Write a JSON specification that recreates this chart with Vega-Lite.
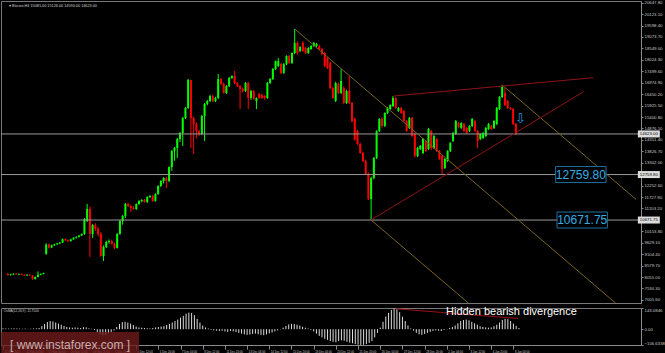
{
"$schema":"https://vega.github.io/schema/vega-lite/v6.json",
"background":"#000000",
"padding":0,
"spacing":1,
"config":{"view":{"stroke":"#787878","strokeWidth":1},"axis":{"grid":false,"title":null,"labelOverlap":false,"labelBound":false,"labelFont":"Liberation Sans","labelFontSize":4.3,"labelColor":"#c8c8c8","domainColor":"#8a8a8a","tickColor":"#8a8a8a"}},
"datasets":{
"bars":[
{"i":0,"o":8198,"h":8237,"l":8119,"c":8149,"m":6},
{"i":1,"o":8149,"h":8208,"l":8119,"c":8178,"m":5},
{"i":2,"o":8178,"h":8227,"l":8149,"c":8208,"m":4},
{"i":3,"o":8208,"h":8247,"l":8159,"c":8168,"m":5},
{"i":4,"o":8168,"h":8218,"l":8139,"c":8198,"m":6},
{"i":5,"o":8198,"h":8227,"l":8149,"c":8159,"m":5},
{"i":6,"o":8159,"h":8188,"l":8100,"c":8120,"m":4},
{"i":7,"o":8120,"h":8178,"l":8100,"c":8159,"m":3},
{"i":8,"o":8159,"h":8188,"l":8110,"c":8129,"m":4},
{"i":9,"o":8129,"h":8149,"l":7924,"c":7963,"m":2},
{"i":10,"o":7963,"h":8080,"l":7934,"c":8061,"m":3},
{"i":11,"o":8061,"h":8315,"l":8041,"c":8159,"m":5},
{"i":12,"o":8159,"h":8227,"l":8139,"c":8198,"m":6},
{"i":13,"o":8198,"h":8257,"l":8178,"c":8237,"m":8},
{"i":14,"o":9118,"h":9606,"l":9079,"c":9548,"m":20},
{"i":15,"o":9548,"h":9587,"l":9362,"c":9411,"m":35},
{"i":16,"o":9411,"h":9548,"l":9382,"c":9509,"m":48},
{"i":17,"o":9509,"h":9587,"l":9480,"c":9558,"m":55},
{"i":18,"o":9558,"h":9626,"l":9529,"c":9597,"m":52},
{"i":19,"o":9597,"h":9665,"l":9568,"c":9636,"m":45},
{"i":20,"o":9636,"h":9822,"l":9617,"c":9793,"m":38},
{"i":21,"o":9793,"h":9832,"l":9714,"c":9744,"m":30},
{"i":22,"o":9744,"h":9783,"l":9666,"c":9705,"m":22},
{"i":23,"o":9705,"h":9812,"l":9685,"c":9783,"m":15},
{"i":24,"o":9783,"h":9881,"l":9763,"c":9861,"m":12},
{"i":25,"o":9861,"h":9920,"l":9822,"c":9900,"m":10},
{"i":26,"o":9900,"h":9979,"l":9871,"c":9959,"m":12},
{"i":27,"o":9959,"h":10057,"l":9940,"c":10028,"m":10},
{"i":28,"o":10028,"h":10762,"l":9999,"c":10720,"m":8},
{"i":29,"o":10626,"h":11409,"l":10583,"c":11178,"m":14},
{"i":30,"o":11178,"h":11290,"l":8974,"c":10032,"m":12},
{"i":31,"o":10032,"h":10488,"l":9851,"c":10446,"m":6},
{"i":32,"o":10446,"h":10528,"l":10165,"c":10264,"m":3},
{"i":33,"o":10264,"h":10362,"l":9920,"c":10032,"m":-5},
{"i":34,"o":10032,"h":10116,"l":8991,"c":9021,"m":-20},
{"i":35,"o":9021,"h":9509,"l":8792,"c":9435,"m":-35},
{"i":36,"o":9435,"h":9725,"l":9382,"c":9664,"m":-40},
{"i":37,"o":9664,"h":9783,"l":9587,"c":9710,"m":-38},
{"i":38,"o":9710,"h":9773,"l":9548,"c":9572,"m":-30},
{"i":39,"o":9572,"h":9626,"l":9333,"c":9389,"m":-20},
{"i":40,"o":9389,"h":10077,"l":9362,"c":10032,"m":-8},
{"i":41,"o":10032,"h":10683,"l":9999,"c":10627,"m":15},
{"i":42,"o":10627,"h":10898,"l":10461,"c":10857,"m":35},
{"i":43,"o":10857,"h":11456,"l":10761,"c":11408,"m":48},
{"i":44,"o":11408,"h":11465,"l":11272,"c":11318,"m":50},
{"i":45,"o":11318,"h":11370,"l":11041,"c":11225,"m":45},
{"i":46,"o":11225,"h":11320,"l":11144,"c":11179,"m":38},
{"i":47,"o":11179,"h":11436,"l":11134,"c":11408,"m":28},
{"i":48,"o":11408,"h":11583,"l":11371,"c":11546,"m":18},
{"i":49,"o":11546,"h":11632,"l":11485,"c":11592,"m":12},
{"i":50,"o":11592,"h":11642,"l":11466,"c":11500,"m":10},
{"i":51,"o":11500,"h":11760,"l":11456,"c":11730,"m":8},
{"i":52,"o":11730,"h":11828,"l":11682,"c":11775,"m":6},
{"i":53,"o":11775,"h":11828,"l":11514,"c":11546,"m":5},
{"i":54,"o":11546,"h":11897,"l":11517,"c":11867,"m":8},
{"i":55,"o":11867,"h":12269,"l":11828,"c":12234,"m":12},
{"i":56,"o":12234,"h":12503,"l":12190,"c":12464,"m":15},
{"i":57,"o":12464,"h":12640,"l":12346,"c":12601,"m":18},
{"i":58,"o":12601,"h":12660,"l":12141,"c":12464,"m":20},
{"i":59,"o":12464,"h":13129,"l":12415,"c":13106,"m":28},
{"i":60,"o":13106,"h":13883,"l":12926,"c":13841,"m":35},
{"i":61,"o":13841,"h":14030,"l":13393,"c":13979,"m":45},
{"i":62,"o":13979,"h":14440,"l":13520,"c":14392,"m":55},
{"i":63,"o":14392,"h":14715,"l":14255,"c":14667,"m":65},
{"i":64,"o":14667,"h":15400,"l":14071,"c":15357,"m":78},
{"i":65,"o":15357,"h":15860,"l":15304,"c":15814,"m":90},
{"i":66,"o":15814,"h":17150,"l":15771,"c":17100,"m":105},
{"i":67,"o":17100,"h":17112,"l":13979,"c":15357,"m":112},
{"i":68,"o":15357,"h":15420,"l":13703,"c":15081,"m":110},
{"i":69,"o":15081,"h":15156,"l":14421,"c":14759,"m":95},
{"i":70,"o":14759,"h":14813,"l":14519,"c":14621,"m":70},
{"i":71,"o":14621,"h":15497,"l":14568,"c":15448,"m":45},
{"i":72,"o":15448,"h":16046,"l":14300,"c":15999,"m":25},
{"i":73,"o":15999,"h":16183,"l":15941,"c":16137,"m":12},
{"i":74,"o":16137,"h":16416,"l":16086,"c":16366,"m":5},
{"i":75,"o":16366,"h":16428,"l":16086,"c":16137,"m":-5},
{"i":76,"o":16137,"h":16330,"l":16086,"c":16274,"m":-8},
{"i":77,"o":16274,"h":17375,"l":16222,"c":17146,"m":-10},
{"i":78,"o":17146,"h":17190,"l":16867,"c":16917,"m":-12},
{"i":79,"o":16917,"h":16985,"l":16476,"c":16503,"m":-10},
{"i":80,"o":16503,"h":16867,"l":16457,"c":16818,"m":-15},
{"i":81,"o":16818,"h":17239,"l":16770,"c":17193,"m":-18},
{"i":82,"o":17193,"h":17308,"l":17141,"c":17284,"m":-12},
{"i":83,"o":17284,"h":17518,"l":16916,"c":16963,"m":-15},
{"i":84,"o":16963,"h":17011,"l":16770,"c":16818,"m":-20},
{"i":85,"o":16818,"h":16867,"l":15769,"c":16687,"m":-25},
{"i":86,"o":16687,"h":16750,"l":16524,"c":16596,"m":-30},
{"i":87,"o":16596,"h":17014,"l":16544,"c":16962,"m":-35},
{"i":88,"o":16962,"h":17014,"l":15769,"c":16273,"m":-38},
{"i":89,"o":16273,"h":16652,"l":16184,"c":16596,"m":-36},
{"i":90,"o":16596,"h":16652,"l":16184,"c":16227,"m":-32},
{"i":91,"o":16137,"h":16300,"l":15769,"c":16273,"m":-30},
{"i":92,"o":16458,"h":16497,"l":16233,"c":16273,"m":-34},
{"i":93,"o":16413,"h":16478,"l":16233,"c":16273,"m":-38},
{"i":94,"o":16366,"h":16408,"l":16184,"c":16273,"m":-40},
{"i":95,"o":16273,"h":17014,"l":16231,"c":16962,"m":-35},
{"i":96,"o":16962,"h":17190,"l":16916,"c":17146,"m":-28},
{"i":97,"o":17146,"h":17651,"l":17102,"c":17606,"m":-22},
{"i":98,"o":17606,"h":17993,"l":17552,"c":17969,"m":-15},
{"i":99,"o":17740,"h":18111,"l":17699,"c":17969,"m":-8},
{"i":100,"o":17835,"h":17896,"l":17363,"c":17421,"m":-2},
{"i":101,"o":17421,"h":17875,"l":17375,"c":17834,"m":10},
{"i":102,"o":17834,"h":18238,"l":17787,"c":18201,"m":22},
{"i":103,"o":18201,"h":18256,"l":17846,"c":17884,"m":32},
{"i":104,"o":17884,"h":18364,"l":17836,"c":18339,"m":36},
{"i":105,"o":18339,"h":19441,"l":18286,"c":18798,"m":35},
{"i":106,"o":18798,"h":18873,"l":18256,"c":18339,"m":30},
{"i":107,"o":18431,"h":18649,"l":18383,"c":18614,"m":24},
{"i":108,"o":18798,"h":18890,"l":18383,"c":18431,"m":16},
{"i":109,"o":18569,"h":18629,"l":18286,"c":18339,"m":10},
{"i":110,"o":18339,"h":18609,"l":18295,"c":18569,"m":5},
{"i":111,"o":18523,"h":18707,"l":18482,"c":18661,"m":-5},
{"i":112,"o":18661,"h":18844,"l":18609,"c":18798,"m":-15},
{"i":113,"o":18661,"h":18805,"l":18609,"c":18752,"m":-30},
{"i":114,"o":18661,"h":18727,"l":18482,"c":18523,"m":-45},
{"i":115,"o":18523,"h":18570,"l":18237,"c":18293,"m":-55},
{"i":116,"o":18339,"h":18384,"l":17699,"c":17740,"m":-65},
{"i":117,"o":18110,"h":18159,"l":17601,"c":17651,"m":-72},
{"i":118,"o":17884,"h":17944,"l":16672,"c":16732,"m":-80},
{"i":119,"o":16732,"h":16789,"l":16231,"c":16273,"m":-85},
{"i":120,"o":16137,"h":17014,"l":16086,"c":16962,"m":-88},
{"i":121,"o":16916,"h":16985,"l":16457,"c":16503,"m":-80},
{"i":122,"o":16503,"h":17605,"l":16457,"c":17055,"m":-75},
{"i":123,"o":16732,"h":16818,"l":15986,"c":16045,"m":-78},
{"i":124,"o":16045,"h":16652,"l":15998,"c":16596,"m":-85},
{"i":125,"o":16596,"h":17283,"l":15998,"c":16045,"m":-90},
{"i":126,"o":16045,"h":16086,"l":15156,"c":15218,"m":-95},
{"i":127,"o":15309,"h":15380,"l":14323,"c":14361,"m":-100},
{"i":128,"o":14759,"h":14813,"l":14125,"c":14162,"m":-104},
{"i":129,"o":14162,"h":14225,"l":13720,"c":13749,"m":-106},
{"i":130,"o":13749,"h":13815,"l":13326,"c":13382,"m":-105},
{"i":131,"o":13382,"h":13444,"l":12738,"c":12785,"m":-100},
{"i":132,"o":12785,"h":12855,"l":11585,"c":11637,"m":-92},
{"i":133,"o":11637,"h":12660,"l":10671.75,"c":12601,"m":-80},
{"i":134,"o":12601,"h":13560,"l":12543,"c":13520,"m":-55},
{"i":135,"o":13520,"h":14794,"l":13473,"c":14759,"m":-25},
{"i":136,"o":14759,"h":15350,"l":14715,"c":15310,"m":10},
{"i":137,"o":15310,"h":15400,"l":14910,"c":14988,"m":50},
{"i":138,"o":14988,"h":15615,"l":14940,"c":15586,"m":85},
{"i":139,"o":15586,"h":15860,"l":15537,"c":15814,"m":110},
{"i":140,"o":15768,"h":15985,"l":15722,"c":15952,"m":130},
{"i":141,"o":15907,"h":16366,"l":15860,"c":16273,"m":140},
{"i":142,"o":16273,"h":16319,"l":15771,"c":15814,"m":135},
{"i":143,"o":15677,"h":15860,"l":15635,"c":15814,"m":115},
{"i":144,"o":15814,"h":15869,"l":15546,"c":15586,"m":85},
{"i":145,"o":15677,"h":15723,"l":15165,"c":15218,"m":55},
{"i":146,"o":15218,"h":15263,"l":14715,"c":14759,"m":25},
{"i":147,"o":14897,"h":15400,"l":14852,"c":15356,"m":5},
{"i":148,"o":15356,"h":15400,"l":14480,"c":14530,"m":-10},
{"i":149,"o":14621,"h":14667,"l":13540,"c":13612,"m":-25},
{"i":150,"o":13612,"h":14030,"l":13560,"c":13979,"m":-35},
{"i":151,"o":13933,"h":14119,"l":13884,"c":14071,"m":-38},
{"i":152,"o":13749,"h":14441,"l":13697,"c":14392,"m":-32},
{"i":153,"o":14300,"h":14352,"l":13795,"c":13841,"m":-25},
{"i":154,"o":13933,"h":14901,"l":13883,"c":14851,"m":-18},
{"i":155,"o":14759,"h":14813,"l":13883,"c":13979,"m":-12},
{"i":156,"o":13979,"h":14578,"l":13930,"c":14530,"m":-8},
{"i":157,"o":14392,"h":14441,"l":13795,"c":13841,"m":-10},
{"i":158,"o":13841,"h":13883,"l":13423,"c":13474,"m":-12},
{"i":159,"o":13612,"h":13659,"l":12775,"c":13015,"m":-5},
{"i":160,"o":13061,"h":13521,"l":13012,"c":13474,"m":2},
{"i":161,"o":13382,"h":13883,"l":13335,"c":13841,"m":8},
{"i":162,"o":13841,"h":14255,"l":13795,"c":14208,"m":15},
{"i":163,"o":14300,"h":14715,"l":14255,"c":14667,"m":25},
{"i":164,"o":14621,"h":15263,"l":14578,"c":15218,"m":40},
{"i":165,"o":15127,"h":15175,"l":14901,"c":14943,"m":55},
{"i":166,"o":14897,"h":15166,"l":14852,"c":15127,"m":62},
{"i":167,"o":15081,"h":15127,"l":14715,"c":14759,"m":65},
{"i":168,"o":14897,"h":14940,"l":14617,"c":14667,"m":60},
{"i":169,"o":14759,"h":15026,"l":14715,"c":14988,"m":50},
{"i":170,"o":14988,"h":15351,"l":14940,"c":15310,"m":40},
{"i":171,"o":15218,"h":15263,"l":14715,"c":14759,"m":30},
{"i":172,"o":14759,"h":14803,"l":13979,"c":14300,"m":20},
{"i":173,"o":14392,"h":14666,"l":14342,"c":14621,"m":15},
{"i":174,"o":14438,"h":14715,"l":14392,"c":14667,"m":12},
{"i":175,"o":14530,"h":14943,"l":14480,"c":14897,"m":10},
{"i":176,"o":14851,"h":15127,"l":14803,"c":15081,"m":12},
{"i":177,"o":14988,"h":15038,"l":14803,"c":14851,"m":20},
{"i":178,"o":14897,"h":15263,"l":14852,"c":15218,"m":30},
{"i":179,"o":15081,"h":15860,"l":15028,"c":15814,"m":45},
{"i":180,"o":15768,"h":16359,"l":15722,"c":16319,"m":62},
{"i":181,"o":16319,"h":16870,"l":16270,"c":16778,"m":70},
{"i":182,"o":16503,"h":16731,"l":15906,"c":15952,"m":68},
{"i":183,"o":16137,"h":16183,"l":15771,"c":15814,"m":55},
{"i":184,"o":15814,"h":15860,"l":15722,"c":15768,"m":38},
{"i":185,"o":15768,"h":15810,"l":15037,"c":15081,"m":22},
{"i":186,"o":15081,"h":15126,"l":14590,"c":14623,"m":8}
],
"levels":[{"p":14623},{"p":12759.8},{"p":10671.75}],
"lines":[
{"k":"fork","i1":105,"p1":19441,"i2":222.5,"p2":6864},
{"k":"fork","i1":181,"p1":16870,"i2":230,"p2":11620},
{"k":"fork","i1":133,"p1":10671.75,"i2":168.6,"p2":6864},
{"k":"wedge","i1":141.3,"p1":16365,"i2":214.4,"p2":17205},
{"k":"wedge","i1":132.9,"p1":10671.75,"i2":210.8,"p2":16563}
],
"tags":[{"i":209.8,"p":12759.8,"t":"12759.80"},{"i":210.3,"p":10671.75,"t":"10671.75"}],
"axtags":[{"i":234.7,"p":14623,"t":"14623.00"},{"i":234.7,"p":12759.8,"t":"12759.80"},{"i":234.7,"p":10671.75,"t":"10671.75"}],
"arrow":[{"i":187.7,"p":15323,"t":"⇩"}],
"head":[{"i":0.4,"p":20496,"t":"▾ Bitcoin,H4  15081.00 15126.00 14590.00 14623.00"}],
"div":[{"i1":141.6,"v1":138,"i2":185.7,"v2":72}],
"divtext":[{"i":159.7,"v":116.8,"t":"Hidden bearish divergence"}],
"osma":[{"i":0.3,"v":123,"t":"OsMA(12,26,9) -11.7500"}],
"wm":[{"i":24.2,"v":-103.3,"t":"[ www.instaforex.com ]"}]
},
"vconcat":[
{
"width":640,"height":302,
"layer":[
{"data":{"name":"bars"},"mark":{"type":"rule","strokeWidth":1},
 "encoding":{
  "x":{"field":"i","type":"quantitative","scale":{"domain":[-0.72,230],"nice":false,"zero":false},"axis":null},
  "y":{"field":"l","type":"quantitative","scale":{"domain":[6864,20725.8],"nice":false,"zero":false},
   "axis":{"orient":"right","title":null,"tickCount":200,"values":[7005.6,7530.3,8055.0,8579.7,9104.4,9629.1,10153.8,11203.2,11727.9,12252.6,13302.0,13826.7,14351.4,14876.1,15400.8,15925.5,16450.2,16974.9,17499.6,18024.3,18549.0,19073.7,19598.4,20123.1,20647.8],"format":".2f","tickSize":2,"labelPadding":1,"labelOverlap":false}},
  "y2":{"field":"h"},
  "color":{"condition":{"test":"datum.c < datum.o","value":"#ff0000"},"value":"#00ff00"}}},
{"data":{"name":"bars"},"mark":{"type":"bar","size":2},
 "encoding":{
  "x":{"field":"i","type":"quantitative","axis":null},
  "y":{"field":"o","type":"quantitative"},
  "y2":{"field":"c"},
  "color":{"condition":{"test":"datum.c < datum.o","value":"#ff0000"},"value":"#00ff00"}}},
{"data":{"name":"levels"},"mark":{"type":"rule","color":"#9a9a9a","strokeWidth":1},
 "encoding":{"y":{"field":"p","type":"quantitative"}}},
{"data":{"name":"lines"},"mark":{"type":"rule","strokeWidth":1,"clip":true},
 "encoding":{
  "x":{"field":"i1","type":"quantitative","axis":null},"x2":{"field":"i2"},
  "y":{"field":"p1","type":"quantitative"},"y2":{"field":"p2"},
  "color":{"field":"k","type":"nominal","scale":{"domain":["fork","wedge"],"range":["#7a6420","#8e1414"]},"legend":null}}},
{"data":{"name":"tags"},"mark":{"type":"point","shape":"M-3.15,-1H3.15V1H-3.15Z","size":256,"filled":true,"color":"#000000","stroke":"#1f6f9f","strokeWidth":1,"opacity":1},
 "encoding":{"x":{"field":"i","type":"quantitative","axis":null},"y":{"field":"p","type":"quantitative"}}},
{"data":{"name":"tags"},"mark":{"type":"text","font":"Liberation Sans","fontSize":12,"color":"#35aee6","align":"center","baseline":"middle"},
 "encoding":{"x":{"field":"i","type":"quantitative","axis":null},"y":{"field":"p","type":"quantitative"},"text":{"field":"t"}}},
{"data":{"name":"axtags"},"mark":{"type":"point","shape":"M-3.14,-1H3.14V1H-3.14Z","size":49,"filled":true,"color":"#dcdcdc","opacity":1},
 "encoding":{"x":{"field":"i","type":"quantitative","axis":null},"y":{"field":"p","type":"quantitative"}}},
{"data":{"name":"axtags"},"mark":{"type":"text","font":"Liberation Sans","fontSize":4.3,"color":"#000000","align":"center","baseline":"middle"},
 "encoding":{"x":{"field":"i","type":"quantitative","axis":null},"y":{"field":"p","type":"quantitative"},"text":{"field":"t"}}},
{"data":{"name":"arrow"},"mark":{"type":"text","font":"DejaVu Sans","fontSize":13,"color":"#1e9be0","align":"center","baseline":"middle"},
 "encoding":{"x":{"field":"i","type":"quantitative","axis":null},"y":{"field":"p","type":"quantitative"},"text":{"field":"t"}}},
{"data":{"name":"head"},"mark":{"type":"text","font":"Liberation Sans","fontSize":3.8,"color":"#d0d0d0","align":"left","baseline":"middle"},
 "encoding":{"x":{"field":"i","type":"quantitative","axis":null},"y":{"field":"p","type":"quantitative"},"text":{"field":"t"}}}
]
},
{
"width":640,"height":37,
"layer":[
{"data":{"name":"bars"},"mark":{"type":"rule","strokeWidth":1,"color":"#dcdcdc"},
 "encoding":{
  "x":{"field":"i","type":"quantitative","scale":{"domain":[-0.72,230],"nice":false,"zero":false},
   "axis":{"title":null,"tickCount":200,"values":[0,8,16,24,32,40,48,56,64,72,80,88,96,104,112,120,128,136,144,152,160,168,176,184],
    "labelExpr":"['21 Nov 2017','22 Nov 20:00','27 Nov 04:00','28 Nov 12:00','29 Nov 20:00','1 Dec 04:00','4 Dec 12:00','5 Dec 20:00','7 Dec 04:00','8 Dec 12:00','11 Dec 20:00','13 Dec 04:00','14 Dec 12:00','15 Dec 20:00','19 Dec 04:00','20 Dec 12:00','21 Dec 20:00','26 Dec 04:00','27 Dec 12:00','28 Dec 20:00','2 Jan 04:00','3 Jan 12:00','4 Jan 20:00','8 Jan 04:00'][round(datum.value/8)]",
    "labelAlign":"left","labelFontSize":2.8,"tickSize":4,"labelPadding":1,"labelOffset":1,"labelOverlap":false,"labelFlush":false}},
  "y":{"field":"m","type":"quantitative","scale":{"domain":[-106.6338,143.0846],"nice":false,"zero":false},
   "axis":{"orient":"right","title":null,"tickCount":50,"values":[143.0846,0,-106.6338],"labelExpr":"datum.value == 0 ? '0.00' : format(datum.value, '.4f')","tickSize":2,"labelPadding":1,"labelFlush":true,"labelOverlap":false}},
  "y2":{"datum":0}}},
{"data":{"name":"div"},"mark":{"type":"rule","strokeWidth":1,"color":"#9a1212"},
 "encoding":{"x":{"field":"i1","type":"quantitative"},"x2":{"field":"i2"},"y":{"field":"v1","type":"quantitative"},"y2":{"field":"v2"}}},
{"data":{"name":"divtext"},"mark":{"type":"text","font":"Liberation Sans","fontSize":11,"color":"#ffffff","align":"left","baseline":"middle"},
 "encoding":{"x":{"field":"i","type":"quantitative"},"y":{"field":"v","type":"quantitative"},"text":{"field":"t"}}},
{"data":{"name":"osma"},"mark":{"type":"text","font":"Liberation Sans","fontSize":3.2,"color":"#d0d0d0","align":"left","baseline":"middle"},
 "encoding":{"x":{"field":"i","type":"quantitative"},"y":{"field":"v","type":"quantitative"},"text":{"field":"t"}}},
{"data":{"name":"wm"},"mark":{"type":"point","shape":"M-5.52,-1H5.52V1H-5.52Z","size":625,"filled":true,"color":"#6e1a1a","opacity":0.8},
 "encoding":{"x":{"field":"i","type":"quantitative"},"y":{"field":"v","type":"quantitative"}}},
{"data":{"name":"wm"},"mark":{"type":"text","font":"Liberation Sans","fontSize":12,"color":"#c9b0b0","align":"center","baseline":"middle"},
 "encoding":{"x":{"field":"i","type":"quantitative"},"y":{"field":"v","type":"quantitative"},"text":{"field":"t"}}}
]
}
]
}
